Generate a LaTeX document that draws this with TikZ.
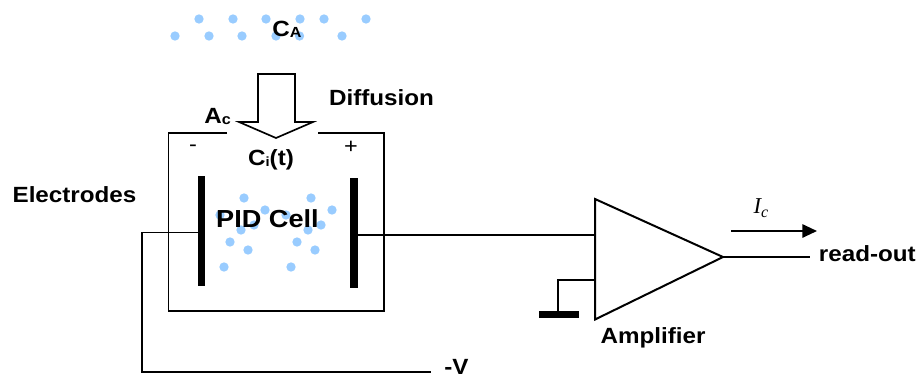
\documentclass[tikz,border=0pt]{standalone}
\usepackage{fontspec}
\setmainfont[FakeStretch=1.1]{Liberation Sans}
\newfontfamily\serifital{Liberation Serif}
\usetikzlibrary{arrows.meta,calc}
\definecolor{dotblue}{HTML}{99CCFF}
\tikzset{
  px/.style={x=0.75pt,y=-0.75pt},
  lab/.style={font=\fontsize{16.5}{18}\selectfont\bfseries,inner sep=0pt,text=black},
  sgn/.style={font=\fontsize{16}{18}\selectfont,inner sep=0pt},
  wire/.style={draw=black,line width=1.4pt,line join=miter},
  plate/.style={draw=none,fill=black,inner sep=0pt,minimum width=5.6pt,minimum height=82.5pt},
  gas/.style={circle,fill=dotblue,draw=none,inner sep=0pt,minimum size=7pt},
}
\begin{document}
\begin{tikzpicture}[px]
\useasboundingbox (0,0) rectangle (919,378);
% gas above
\foreach \n/\x in {a/199,b/233,c/266,d/300,e/324,f/366}{\node[gas] (t\n) at (\x,19) {};}
\foreach \n/\x in {a/175,b/209,c/242,d/276,e/299.5,f/342}{\node[gas] (u\n) at (\x,36) {};}
% gas in the cell
\foreach \n/\x/\y in {a/244/198,b/265/210,c/220/215,d/241/230,e/254/225,f/230/242,g/248/250,h/224/267,
  i/311/198,j/332/210,k/286/215,l/308/230,m/321/225,n/297/242,o/315/250,p/291/267}{\node[gas] (c\n) at (\x,\y) {};}
% cell outline
\coordinate (cellTL) at (227,133);
\coordinate (cellTR) at (318,133);
\draw[wire] (cellTL) -- (168.5,133) -- (168.5,311) -- (384,311) -- (384,133) -- (cellTR);
% diffusion arrow
\draw[wire,line width=1.25pt] (258,74) -- (295,74) -- (295,122) -- (313,122) -- (276,138) -- (239,122) -- (258,122) -- cycle;
% plates
\node[plate] (plateL) at (201.7,231) {};
\node[plate] (plateR) at (354,233) {};
% amplifier
\coordinate (ampTop) at (595,199);
\coordinate (ampBot) at (595,319.5);
\coordinate (ampOut) at (723,257);
\draw[wire,line width=1.5pt] (ampTop) -- (ampOut) -- (ampBot) -- cycle;
% labels
\node[lab] (ca) at (287,29.5) {C\raisebox{-0.1ex}{\fontsize{11}{12}\selectfont A}};
\node[lab] (ac) at (217.5,116.5) {A\raisebox{-0.1ex}{\fontsize{11}{12}\selectfont c}};
\node[lab] (ci) at (271,160) {C\raisebox{-0.1ex}{\fontsize{10}{12}\selectfont i}(t)};
\node[lab] (diff) at (381.5,98) {Diffusion};
\node[lab] (elec) at (74.5,195) {Electrodes};
\node[lab,font=\fontsize{18.5}{20}\selectfont\bfseries] (pid) at (267.5,219) {PID Cell};
\node[lab] (ampl) at (653,338) {Amplifier};
\node[lab,anchor=west,outer sep=6.5pt] (readout) at (810.3,254) {read-out};
\node[lab,anchor=west] (mv) at (444,366.5) {-V};
\node[sgn] (minus) at (193,148) {-};
\node[sgn] (plus) at (351,147) {+};
\node[inner sep=0pt,font=\fontsize{17}{18}\selectfont] (ic) at (761,208) {\serifital\itshape I\raisebox{-0.35ex}{\fontsize{12}{12}\selectfont c}};
% wiring
\coordinate (bias) at (142,372);
\coordinate (biasEnd) at (430.7,372);
\draw[wire] (plateL.west |- 0,232.5) -- (142,232.5) -- (bias) -- (biasEnd);
\draw[wire] (plateR.east |- 0,235) -- (ampTop |- 0,235);
\draw[wire] (ampOut) -- (readout.west |- ampOut);
% ground
\node[fill=black,inner sep=0pt,minimum width=30pt,minimum height=5.2pt] (gnd) at (559,314.5) {};
\draw[wire] (ampTop |- 0,280) -- (558,280) -- (gnd.north -| 558,0);
% current arrow
\coordinate (icA) at (731,231);
\coordinate (icB) at (817,231);
\draw[wire,-{Triangle[length=11pt,width=10pt]}] (icA) -- (icB);
\end{tikzpicture}
\end{document}
